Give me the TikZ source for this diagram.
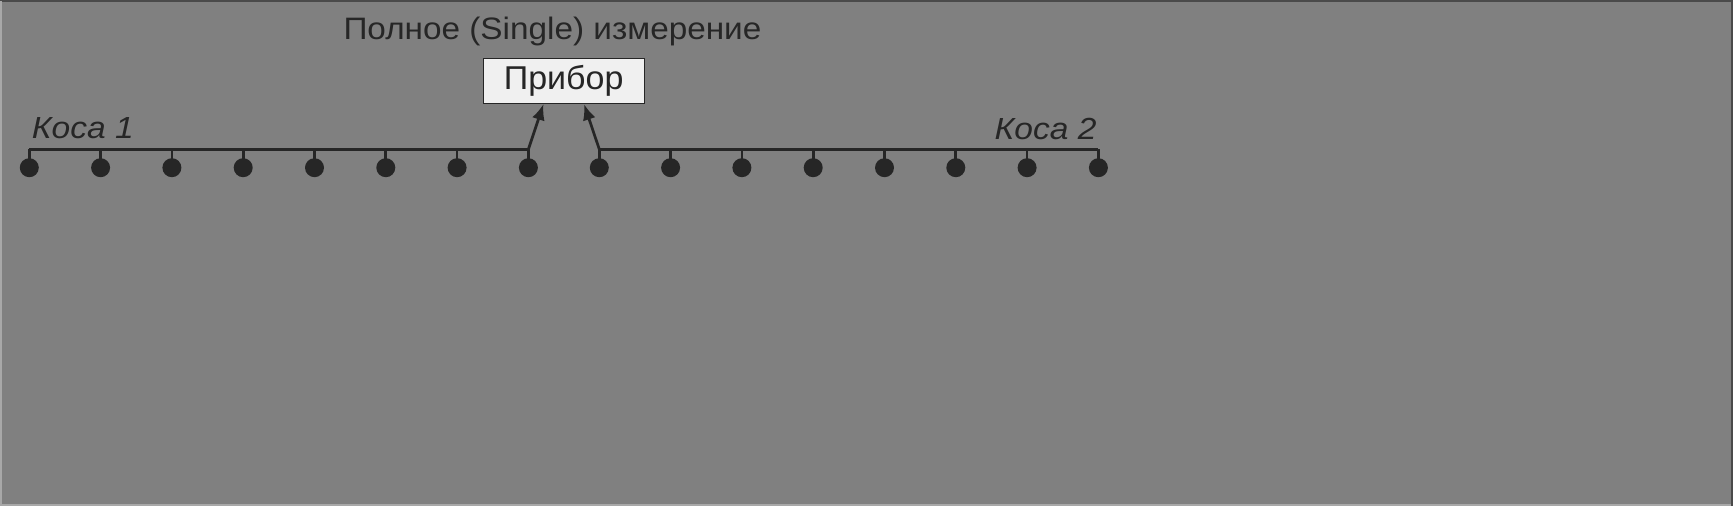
\documentclass[tikz,border=0pt]{standalone}
\usepackage{fontspec}
\setmainfont{Liberation Sans}
\newfontfamily\titlefont[FakeStretch=1.075]{Liberation Sans}
\newfontfamily\kosafont[FakeStretch=1.1,ItalicFeatures={FakeStretch=1.1}]{Liberation Sans}
\newfontfamily\boxfont[FakeStretch=1.03]{Liberation Sans}
\usetikzlibrary{arrows.meta}
\definecolor{bg}{HTML}{808080}
\definecolor{ink}{HTML}{262626}
\definecolor{boxfill}{HTML}{F0F0F0}
\definecolor{frdark}{HTML}{4A4A4A}
\definecolor{frlight}{HTML}{A8A8A8}
\begin{document}
\begin{tikzpicture}[x=1pt,y=-1pt,
  dotnode/.style={circle,fill=ink,inner sep=0pt,minimum size=19pt},
  wire/.style={draw=ink,line width=2.7pt},
  arrowwire/.style={wire,-{Latex[length=16pt,width=13pt]}},
  boxnode/.style={draw=ink,fill=boxfill,line width=1pt,inner sep=0pt,minimum width=161pt,minimum height=45pt,font=\boxfont\fontsize{33}{33}\selectfont,text=ink},
  titletext/.style={font=\titlefont\fontsize{31}{31}\selectfont,text=ink,inner sep=0pt},
  kosatext/.style={font=\kosafont\fontsize{30.5}{30.5}\selectfont\itshape,text=ink,inner sep=0pt}]
\fill[bg] (0,0) rectangle (1733,506);
\useasboundingbox (0,0) rectangle (1733,506);
\draw[frdark,line width=2pt] (0,1) -- (1732,1) -- (1732,506);
\draw[frlight,line width=2pt] (1,1) -- (1,505) -- (1731,505);
% title
\node[titletext,anchor=base west] (title) at (343.3,39.3) {Полное (Single) измерение};
% box
\node[boxnode] (pribor) at (563.7,80.8) {Прибор};
% left string
\foreach \i in {0,...,7}{
  \node[dotnode] (L\i) at ({29.3+71.3*\i},167.7) {};
  \coordinate (lt\i) at ({29.3+71.3*\i},149.3);
  \draw[wire] (lt\i) -- (L\i.center);
}
\foreach \i in {0,...,7}{
  \node[dotnode] (R\i) at ({599.3+71.3*\i},167.7) {};
  \coordinate (rt\i) at ({599.3+71.3*\i},149.3);
  \draw[wire] (rt\i) -- (R\i.center);
}
\draw[wire] (lt0) -- (lt7);
\draw[wire] (rt0) -- (rt7);
% arrows to instrument
\coordinate (pa) at (543.5,104);
\coordinate (pb) at (584,104);
\draw[arrowwire] (lt7) -- (pa);
\draw[arrowwire] (rt0) -- (pb);
% labels
\node[kosatext,anchor=base west] (k1) at (31.7,138) {Коса 1};
\node[kosatext,anchor=base east] (k2) at (1096.7,139.3) {Коса 2};
\end{tikzpicture}
\end{document}
